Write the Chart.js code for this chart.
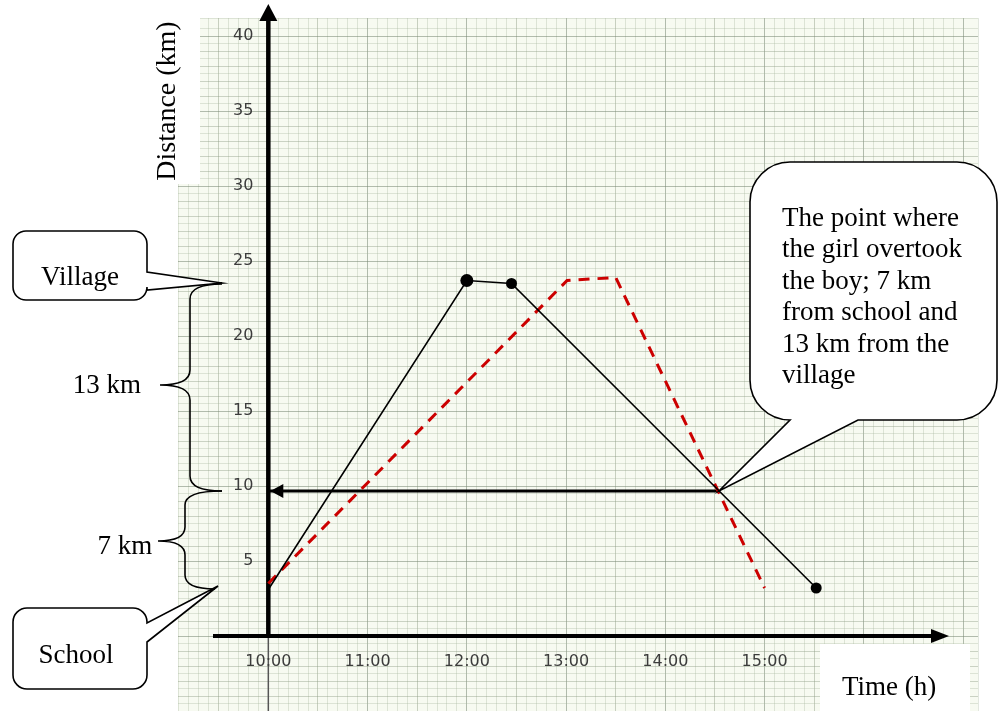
<!DOCTYPE html>
<html>
<head>
<meta charset="utf-8">
<script src="https://cdn.jsdelivr.net/npm/chart.js@4.4.1/dist/chart.umd.min.js"></script>
<style>
html, body { margin: 0; padding: 0; background: #fff; overflow: hidden; }
#wrap { position: relative; width: 998px; height: 711px; }
</style>
</head>
<body>
<div id="wrap"><canvas id="chart"></canvas></div>
<script>
// time in decimal hours, distance in km
var boyTimes = [10, 12, 12.45, 15.52];
var boyDist = [3.1, 23.7, 23.5, 3.2];
var girlTimes = [10, 13.01, 13.5, 15];
var girlDist = [3.5, 23.7, 23.9, 3.2];
var meetTimes = [14.54, 10];
var meetDist = [9.67, 9.67];
var timeTicks = [10, 11, 12, 13, 14, 15];
var timeLabels = ['10:00', '11:00', '12:00', '13:00', '14:00', '15:00'];
var distTicks = [5, 10, 15, 20, 25, 30, 35, 40];

var serif = "'Liberation Serif', 'Times New Roman', serif";

function pts(xs, ys) {
	return xs.map(function(x, i) { return { x: x, y: ys[i] }; });
}

function near(a, b) { return Math.abs(a - b) < 1e-6; }

function calloutPath(ctx, x, y, w, h, r, side, p1, p2, tip) {
	ctx.beginPath();
	ctx.moveTo(x + r, y);
	ctx.lineTo(x + w - r, y);
	ctx.arcTo(x + w, y, x + w, y + r, r);
	if (side === 'right') {
		ctx.lineTo(x + w, p1);
		ctx.lineTo(tip[0], tip[1]);
		ctx.lineTo(x + w, p2);
	}
	ctx.lineTo(x + w, y + h - r);
	ctx.arcTo(x + w, y + h, x + w - r, y + h, r);
	if (side === 'bottom') {
		ctx.lineTo(p2, y + h);
		ctx.lineTo(tip[0], tip[1]);
		ctx.lineTo(p1, y + h);
	}
	ctx.lineTo(x + r, y + h);
	ctx.arcTo(x, y + h, x, y + h - r, r);
	ctx.lineTo(x, y + r);
	ctx.arcTo(x, y, x + r, y, r);
	ctx.closePath();
	ctx.fillStyle = '#fff';
	ctx.fill();
	ctx.strokeStyle = '#000';
	ctx.lineWidth = 1.6;
	ctx.stroke();
}

// curly brace, x0 = spine, xc = cusp, tx = end tips
function brace(ctx, tx1, y1, x0, xc, yc, tx2, y2, k) {
	ctx.beginPath();
	ctx.moveTo(tx1, y1);
	ctx.quadraticCurveTo(x0, y1, x0, y1 + k);
	ctx.lineTo(x0, yc - k);
	ctx.quadraticCurveTo(x0, yc, xc, yc);
	ctx.quadraticCurveTo(x0, yc, x0, yc + k);
	ctx.lineTo(x0, y2 - k);
	ctx.quadraticCurveTo(x0, y2, tx2, y2);
	ctx.strokeStyle = '#000';
	ctx.lineWidth = 1.6;
	ctx.stroke();
}

var paper = {
	id: 'paper',
	beforeDraw: function(chart) {
		var a = chart.chartArea, ctx = chart.ctx;
		ctx.save();
		ctx.fillStyle = '#f7faf1';
		ctx.fillRect(a.left, a.top, a.right - a.left, a.bottom - a.top);
		ctx.restore();
	},
	beforeDatasetsDraw: function(chart) {
		var ctx = chart.ctx, xs = chart.scales.x, ys = chart.scales.y;
		var x0 = xs.getPixelForValue(10), y0 = ys.getPixelForValue(0);
		ctx.save();
		// white notch top left
		ctx.fillStyle = '#fff';
		ctx.fillRect(chart.chartArea.left - 1, chart.chartArea.top - 1, 200 - chart.chartArea.left + 1, 185 - chart.chartArea.top);
		// thin line below x axis
		ctx.strokeStyle = '#555';
		ctx.lineWidth = 1.5;
		ctx.beginPath();
		ctx.moveTo(x0, y0);
		ctx.lineTo(x0, 711);
		ctx.stroke();

		// tick labels, crossing the axes at 10:00 / 0 km
		ctx.fillStyle = '#3c3c3c';
		ctx.font = '16px "DejaVu Sans"';
		ctx.textAlign = 'center';
		ctx.textBaseline = 'middle';
		timeTicks.forEach(function(t, i) {
			ctx.fillText(timeLabels[i], xs.getPixelForValue(t), y0 + 26);
		});
		ctx.textAlign = 'right';
		distTicks.forEach(function(d) {
			ctx.fillText(String(d), x0 - 15, ys.getPixelForValue(d));
		});

		// y axis
		ctx.strokeStyle = '#000';
		ctx.fillStyle = '#000';
		ctx.lineWidth = 4.5;
		ctx.beginPath();
		ctx.moveTo(x0, y0 + 2);
		ctx.lineTo(x0, 16);
		ctx.stroke();
		ctx.beginPath();
		ctx.moveTo(x0, 4);
		ctx.lineTo(x0 - 9, 21);
		ctx.lineTo(x0 + 9, 21);
		ctx.closePath();
		ctx.fill();
		// x axis
		ctx.lineWidth = 4;
		ctx.beginPath();
		ctx.moveTo(213, y0);
		ctx.lineTo(936, y0);
		ctx.stroke();
		ctx.beginPath();
		ctx.moveTo(949, y0);
		ctx.lineTo(931, y0 - 7);
		ctx.lineTo(931, y0 + 7);
		ctx.closePath();
		ctx.fill();
		ctx.restore();
	},
	afterDatasetsDraw: function(chart) {
		var ctx = chart.ctx, xs = chart.scales.x, ys = chart.scales.y;
		var tx = xs.getPixelForValue(meetTimes[1]) + 2, ty = ys.getPixelForValue(meetDist[1]);
		ctx.save();
		ctx.fillStyle = '#000';
		ctx.beginPath();
		ctx.moveTo(tx, ty);
		ctx.lineTo(tx + 13, ty - 7);
		ctx.lineTo(tx + 13, ty + 7);
		ctx.closePath();
		ctx.fill();
		ctx.restore();
	},
	afterDraw: function(chart) {
		var ctx = chart.ctx, xs = chart.scales.x, ys = chart.scales.y;
		ctx.save();
		// Time (h) box
		ctx.fillStyle = '#fff';
		ctx.fillRect(820, 644, 150, 67);
		ctx.fillStyle = '#000';
		ctx.font = '27px ' + serif;
		ctx.textBaseline = 'middle';
		ctx.textAlign = 'left';
		ctx.fillText('Time (h)', 842, 688);

		// Distance label
		ctx.save();
		ctx.translate(168, 101);
		ctx.rotate(-Math.PI / 2);
		ctx.textAlign = 'center';
		ctx.font = '28px ' + serif;
		ctx.fillText('Distance (km)', 0, 0);
		ctx.restore();

		// braces
		brace(ctx, 222, 284, 190, 160, 385, 222, 491, 15);
		brace(ctx, 222, 491, 185, 158, 541, 215, 589, 14);

		ctx.fillStyle = '#000';
		ctx.font = '27px ' + serif;
		ctx.textAlign = 'center';
		ctx.fillText('13 km', 107, 386);
		ctx.fillText('7 km', 125, 547);

		// callouts
		calloutPath(ctx, 13, 231, 134, 69, 13, 'right', 272, 290, [222, 283]);
		calloutPath(ctx, 13, 608, 134, 81, 14, 'right', 623, 642, [218, 586]);
		var mx = xs.getPixelForValue(meetTimes[0]), my = ys.getPixelForValue(meetDist[0]);
		calloutPath(ctx, 750, 162, 247, 258, 40, 'bottom', 790, 858, [mx, my]);

		ctx.fillStyle = '#000';
		ctx.font = '27px ' + serif;
		ctx.textAlign = 'center';
		ctx.fillText('Village', 80, 278);
		ctx.fillText('School', 76, 656);
		ctx.textAlign = 'left';
		var lines = ['The point where', 'the girl overtook', 'the boy; 7 km', 'from school and', '13 km from the', 'village'];
		lines.forEach(function(s, i) {
			ctx.fillText(s, 782, 219 + i * 31.4);
		});
		ctx.restore();
	}
};

new Chart(document.getElementById('chart'), {
	type: 'line',
	data: {
		datasets: [
			{
				label: 'Boy',
				data: pts(boyTimes, boyDist),
				borderColor: '#000',
				borderWidth: 1.6,
				pointRadius: [0, 6.5, 5.5, 5.5],
				pointBackgroundColor: '#000',
				pointBorderWidth: 0,
				tension: 0
			},
			{
				label: 'Girl',
				data: pts(girlTimes, girlDist),
				borderColor: '#cc0000',
				borderWidth: 3,
				borderDash: [11, 8],
				pointRadius: 0,
				tension: 0
			},
			{
				label: 'Meeting',
				data: pts(meetTimes, meetDist),
				borderColor: '#000',
				borderWidth: 3,
				pointRadius: 0,
				tension: 0
			}
		]
	},
	options: {
		responsive: true,
		maintainAspectRatio: false,
		animation: false,
		layout: { autoPadding: false, padding: { left: 178, right: 20, top: 18, bottom: 0 } },
		plugins: { legend: { display: false }, tooltip: { enabled: false } },
		scales: {
			x: {
				type: 'linear',
				min: 9.09,
				max: 17.15,
				position: 'bottom',
				border: { display: false },
				grid: {
					drawTicks: false,
					color: function(c) {
						var v = c.tick.value;
						if (near(v, Math.round(v))) return 'rgba(120,135,115,0.55)';
						if (near(v * 2, Math.round(v * 2))) return 'rgba(140,155,130,0.45)';
						return 'rgba(165,180,155,0.32)';
					}
				},
				ticks: { display: false, stepSize: 0.1, autoSkip: false }
			},
			y: {
				type: 'linear',
				min: -5,
				max: 41.2,
				position: 'left',
				border: { display: false },
				grid: {
					drawTicks: false,
					color: function(c) {
						var v = c.tick.value;
						if (near(v / 5, Math.round(v / 5))) return 'rgba(120,135,115,0.55)';
						if (near(v, Math.round(v))) return 'rgba(140,155,130,0.42)';
						return 'rgba(165,180,155,0.32)';
					}
				},
				ticks: { display: false, stepSize: 0.5, autoSkip: false }
			}
		}
	},
	plugins: [paper]
});
</script>
</body>
</html>
